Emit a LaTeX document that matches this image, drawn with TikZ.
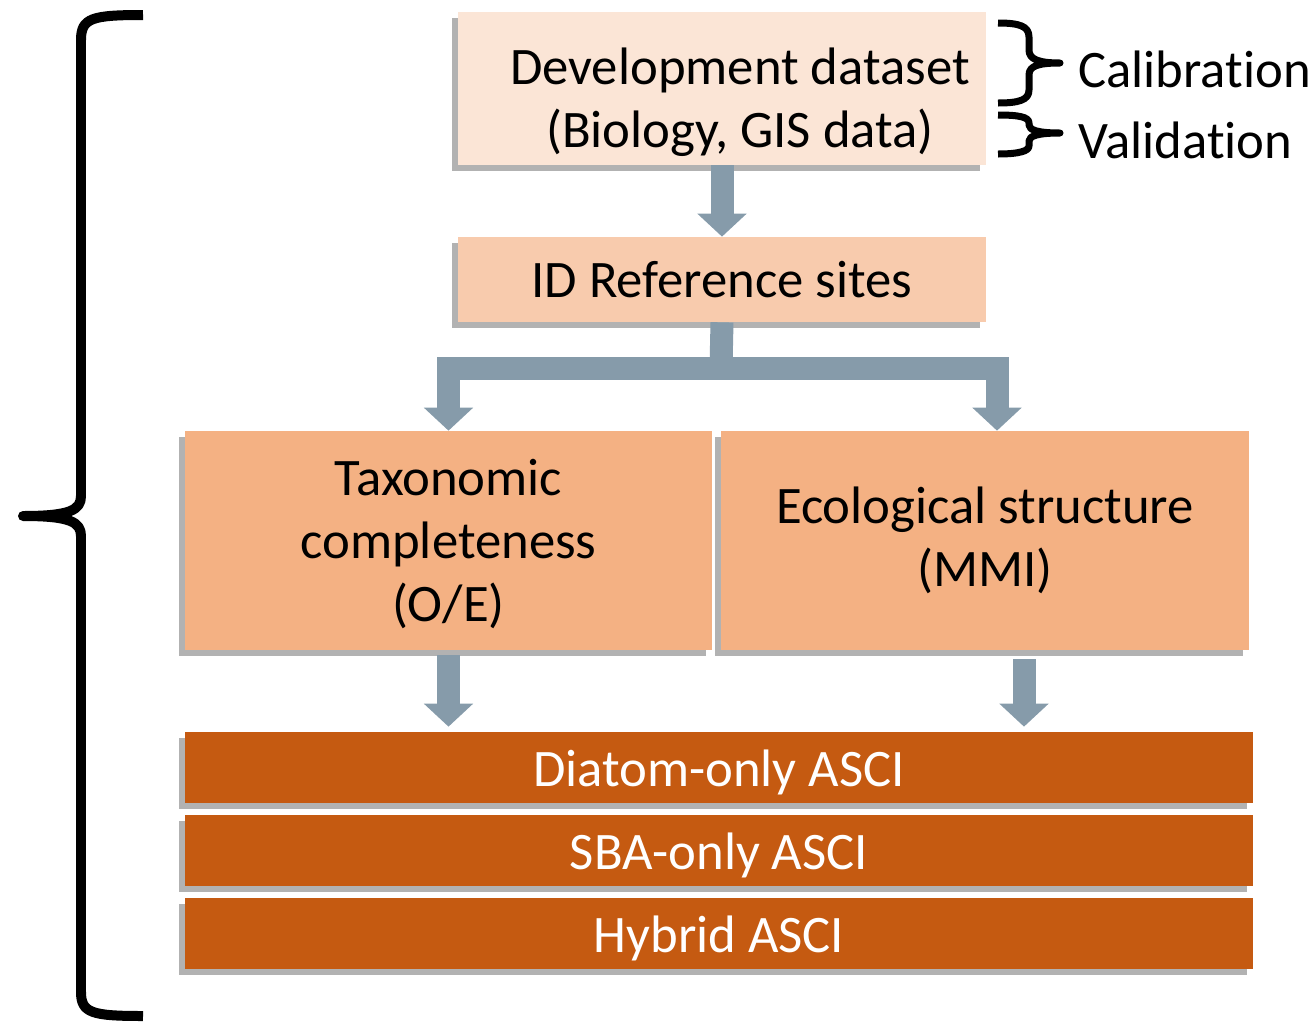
\documentclass[tikz,border=0pt]{standalone}
\usepackage{fontspec}
\setmainfont{Carlito}[Ligatures=NoCommon]
\usetikzlibrary{arrows.meta,shadows,calc}
\definecolor{devfill}{HTML}{FBE5D6}
\definecolor{reffill}{HTML}{F8CBAD}
\definecolor{midfill}{HTML}{F4B183}
\definecolor{ascifill}{HTML}{C55A11}
\definecolor{arrowgray}{HTML}{869BAA}
\begin{document}
\begin{tikzpicture}[x=0.02cm, y=-0.02cm,
    every node/.style={font=\fontsize{30}{36}\selectfont, align=center, inner sep=0pt},
    box/.style={rectangle, minimum width=10.56cm, drop shadow={shadow xshift=-0.12cm, shadow yshift=-0.12cm, fill=black, opacity=0.3}},
    ascibox/.style={box, fill=ascifill, text=white, minimum width=21.36cm, minimum height=1.42cm, text height=0.95cm, text depth=0.21cm},
    flow/.style={line width=0.46cm, color=arrowgray, -{Triangle[width=0.96cm, length=0.46cm]}},
    bar/.style={line width=0.46cm, color=arrowgray},
    brace/.style={line width=0.2cm, line join=round},
    smallbrace/.style={line width=0.14cm, line join=round}]
    \useasboundingbox (0,0) rectangle (1316,1025) ;
    \node [box, fill=devfill, minimum height=3.06cm] (dev) at (722,88.5) {\rule{0pt}{1.27cm}\hspace*{0.72cm}Development dataset\\\hspace*{0.72cm}(Biology, GIS data)} ;
    \node [box, fill=reffill, minimum height=1.7cm] (ref) at (722,279.5) {ID Reference sites} ;
    \node [box, fill=midfill, minimum width=10.54cm, minimum height=4.38cm] (tax) at (448.5,540.5) {\rule{0pt}{0.86cm}Taxonomic\\completeness\\(O/E)} ;
    \node [box, fill=midfill, minimum height=4.38cm] (eco) at (985,540.5) {Ecological structure\\(MMI)} ;
    \node [ascibox] (diatom) at (719,767.5) {Diatom-only ASCI} ;
    \node [ascibox] (sba) at (719,850.5) {SBA-only ASCI} ;
    \node [ascibox] (hybrid) at (719,933.5) {Hybrid ASCI} ;
    \node [anchor=west] (calib) at (1078,69) {Calibration} ;
    \node [anchor=west] (valid) at (1078,140) {Validation} ;

    \draw [flow] (dev.south) -- (ref.north) ;
    \coordinate (split) at (721,368.5) ;
    \draw [bar] (ref.south) -- (split) ;
    \draw [flow] (split) -| (tax.north) ;
    \draw [flow] (split) -| ($(eco.north)+(12,0)$) ;
    \coordinate (taxout) at ($(tax.south)+(0,5)$) ;
    \coordinate (ecoout) at ($(eco.south)+(39,9)$) ;
    \draw [flow, shorten >=0.1cm] (taxout) -- (taxout |- diatom.north) ;
    \draw [flow, shorten >=0.1cm] (ecoout) -- (ecoout |- diatom.north) ;

    \draw [brace] (143,15) .. controls (92,15) and (81,18) .. (81,40) -- (81,496) .. controls (81,510) and (70,516) .. (23,516) .. controls (70,516) and (81,522) .. (81,536) -- (81,992) .. controls (81,1013) and (92,1016) .. (143,1016) ;
    \draw [smallbrace] (998,23) .. controls (1019,23) and (1029,26) .. (1029,37) -- (1029,50) .. controls (1029,59) and (1038,63) .. (1060,63) .. controls (1038,63) and (1029,66) .. (1029,75) -- (1029,90) .. controls (1029,100) and (1019,103) .. (998,103) ;
    \draw [smallbrace] (998,115) .. controls (1019,115) and (1029,117) .. (1029,123) -- (1029,125) .. controls (1029,130) and (1038,133) .. (1060,133) .. controls (1038,133) and (1029,136) .. (1029,141) -- (1029,146) .. controls (1029,151) and (1019,154) .. (998,154) ;
\end{tikzpicture}
\end{document}
